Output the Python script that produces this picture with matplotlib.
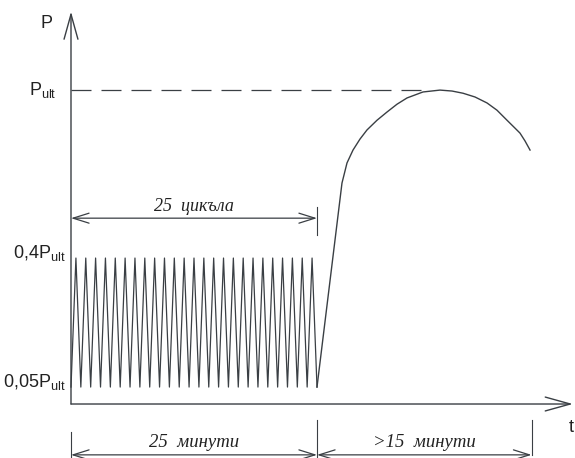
import numpy as np
from matplotlib import pyplot as plt

plt.rcParams['font.family'] = ['Liberation Sans', 'DejaVu Sans']
plt.rcParams['mathtext.fontset'] = 'custom'
plt.rcParams['mathtext.rm'] = 'Liberation Sans'
plt.rcParams['mathtext.default'] = 'regular'

# schematic levels (in units of P_ult) and time (minutes)
n_cycles = 25
p_low = 0.054
p_high = 0.465
p_ult = 1.0
t_cycles_end = 25
t_test_end = 46.8

# ramp + failure curve after the cycles
curve_t = [25.0, 27.54, 27.74, 28.05, 28.66, 29.37, 30.08, 31.10, 32.11, 33.13, 34.15,
           35.77, 37.50, 38.72, 39.84, 41.06, 42.28, 43.29, 44.31, 45.02, 45.63, 46.14, 46.65]
curve_p = [0.054, 0.704, 0.729, 0.768, 0.809, 0.844, 0.873, 0.904, 0.930, 0.955, 0.975,
           0.994, 1.000, 0.997, 0.990, 0.978, 0.959, 0.936, 0.904, 0.882, 0.863, 0.838, 0.809]

yticks = [p_low, p_high, p_ult]
ytick_labels = ['0,05P$_{ult}$', '0,4P$_{ult}$', 'P$_{ult}$']
ytick_x = [-0.6, -0.6, -1.5]
ytick_va = ['baseline', 'baseline', 'center']

col = '#3a3f44'
tcol = '#222222'

fig = plt.figure(figsize=(5.75, 4.58), dpi=100)
ax = fig.add_axes([0, 0, 1, 1])
ax.set_xlim(-7.215, 51.22)
ax.set_ylim(-0.172, 1.287)
ax.axis('off')

# zigzag loading cycles
t_zig = np.arange(2 * n_cycles + 1) / 2.0
p_zig = np.where(np.arange(2 * n_cycles + 1) % 2 == 0, p_low, p_high)
ax.plot(t_zig, p_zig, color=col, lw=0.9)
ax.plot(curve_t, curve_p, color=col, lw=1.0)

# dashed P_ult reference
ax.plot([0, 36.6], [p_ult, p_ult], color=col, lw=0.9, dashes=(16, 8))

# axes with open arrow heads
ax_arrow = dict(arrowstyle='->,head_length=1.8,head_width=0.5', color=col, lw=1.0,
                shrinkA=0, shrinkB=0)
ax.annotate('', xy=(0, 1.25), xytext=(0, 0), arrowprops=ax_arrow)
ax.annotate('', xy=(51.0, 0), xytext=(0, 0), arrowprops=ax_arrow)
ax.text(-2.45, 1.213, 'P', fontsize=13, ha='center', va='center', color=tcol)
ax.text(50.8, -0.075, 't', fontsize=13, ha='center', va='center', color=tcol)

for y, lab, x, va in zip(yticks, ytick_labels, ytick_x, ytick_va):
    ax.text(x, y, lab, fontsize=13, ha='right', va=va, color=tcol)

# dimension lines
dim_arrow = dict(arrowstyle='<->,head_length=1.15,head_width=0.36', color=col, lw=0.9,
                 shrinkA=0, shrinkB=0)
ydim1 = 0.592
ax.annotate('', xy=(0, ydim1), xytext=(t_cycles_end, ydim1), arrowprops=dim_arrow)
ax.plot([t_cycles_end, t_cycles_end], [ydim1 + 0.035, ydim1 - 0.055], color=col, lw=0.8)
ax.text(t_cycles_end / 2, ydim1 + 0.037, '25  цикъла', fontsize=13, style='italic',
        family='Liberation Serif', ha='center', va='center', color=tcol)

ydim2 = -0.162
ax.annotate('', xy=(0, ydim2), xytext=(t_cycles_end, ydim2), arrowprops=dim_arrow)
ax.annotate('', xy=(t_cycles_end, ydim2), xytext=(t_test_end, ydim2), arrowprops=dim_arrow)
ax.plot([0, 0], [-0.09, -0.172], color=col, lw=0.8)
ax.plot([t_cycles_end, t_cycles_end], [-0.05, -0.172], color=col, lw=0.8)
ax.plot([t_test_end, t_test_end], [-0.05, ydim2], color=col, lw=0.8)
ax.text(t_cycles_end / 2, -0.124, '25  минути', fontsize=13.5, style='italic',
        family='Liberation Serif', ha='center', va='center', color=tcol)
ax.text((t_cycles_end + t_test_end) / 2, -0.124, '>15  минути', fontsize=13.5, style='italic',
        family='Liberation Serif', ha='center', va='center', color=tcol)

fig.savefig('out.png', dpi=100)
